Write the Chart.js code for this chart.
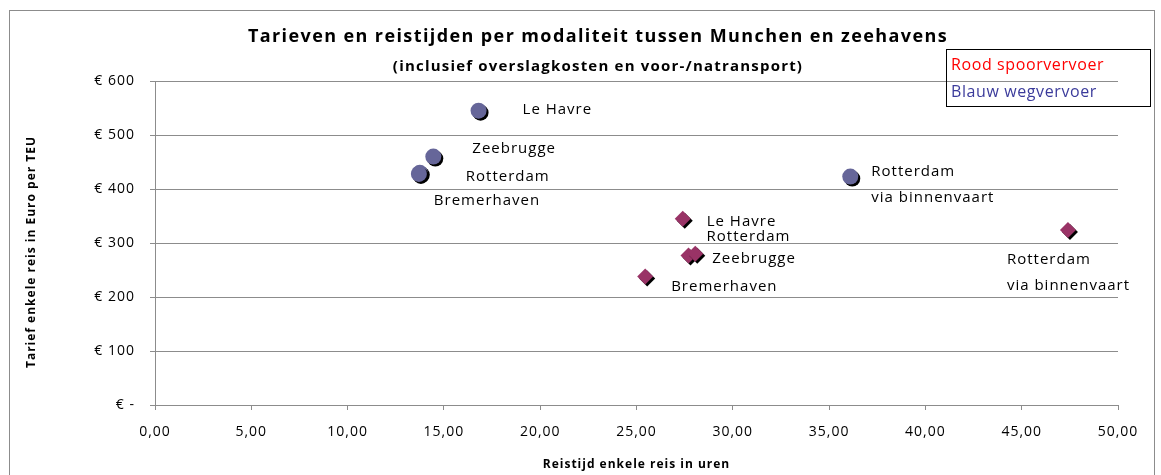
<!DOCTYPE html>
<html>
<head>
<meta charset="utf-8">
<script src="https://cdn.jsdelivr.net/npm/chart.js@4/dist/chart.umd.min.js"></script>
<style>
  body { margin: 0; background: #fff; }
  #wrap { width: 1161px; height: 475px; }
</style>
</head>
<body>
<div id="wrap"><canvas id="c" width="1161" height="475"></canvas></div>
<script>
// spoorvervoer (rood) - uren en euro per TEU
const railPorts = ['Le Havre', 'Rotterdam', 'Zeebrugge', 'Bremerhaven', ['Rotterdam', 'via binnenvaart']];
const railHours = [27.4, 27.7, 28.05, 25.45, 47.4];
const railTariff = [345, 277, 280, 238, 324];

// wegvervoer (blauw)
const roadPorts = ['Le Havre', 'Zeebrugge', 'Rotterdam', 'Bremerhaven', ['Rotterdam', 'via binnenvaart']];
const roadHours = [16.8, 14.45, 13.75, 13.7, 36.1];
const roadTariff = [545, 460, 430, 428, 423];

const xTicks = [0, 5, 10, 15, 20, 25, 30, 35, 40, 45, 50];
const yTicks = [0, 100, 200, 300, 400, 500, 600];

const FONT = '"Open Sans", "Noto Sans", sans-serif';

// label offsets from the marker (text left, text middle)
const railOffsets = [[24, 3], [18, -19], [17, 5], [26, 10], [-61, 30]];
const roadOffsets = [[44, -1], [39, -8], [46, 4], [15, 27], [21, -5]];

const toPts = (xs, ys) => xs.map((x, i) => ({ x: x, y: ys[i] }));

const decor = {
  id: 'decor',
  beforeDraw(chart) {
    const ctx = chart.ctx;
    ctx.save();
    ctx.fillStyle = '#fff';
    ctx.fillRect(0, 0, chart.width, chart.height);
    ctx.strokeStyle = '#8c8c8c';
    ctx.lineWidth = 1;
    ctx.strokeRect(9.5, 10.5, 1145, 470);
    ctx.restore();
    // the original text is spaced out a little
    ctx.letterSpacing = '1px';
  },
  beforeDatasetsDraw(chart) {
    const ctx = chart.ctx;
    ctx.save();
    ctx.shadowColor = '#000';
    ctx.shadowOffsetX = 2;
    ctx.shadowOffsetY = 2;
    ctx.shadowBlur = 0;
  },
  afterDatasetsDraw(chart) {
    const ctx = chart.ctx;
    ctx.restore();

    ctx.save();
    ctx.fillStyle = '#000';
    ctx.textAlign = 'center';
    ctx.textBaseline = 'middle';
    ctx.letterSpacing = '1.4px';
    ctx.font = 'bold 18px ' + FONT;
    ctx.fillText('Tarieven en reistijden per modaliteit tussen Munchen en zeehavens', 598, 37);
    ctx.letterSpacing = '1.2px';
    ctx.font = 'bold 15px ' + FONT;
    ctx.fillText('(inclusief overslagkosten en voor-/natransport)', 598, 67);

    // y axis title
    ctx.save();
    ctx.letterSpacing = '1px';
    ctx.font = 'bold 12px ' + FONT;
    ctx.translate(32, 252);
    ctx.rotate(-Math.PI / 2);
    ctx.fillText('Tarief enkele reis in Euro per TEU', 0, 0);
    ctx.restore();

    // point labels
    ctx.textAlign = 'left';
    ctx.letterSpacing = '1px';
    ctx.font = '15px ' + FONT;
    const sets = [[railPorts, railOffsets], [roadPorts, roadOffsets]];
    sets.forEach(([names, offs], di) => {
      const meta = chart.getDatasetMeta(di);
      meta.data.forEach((pt, i) => {
        const lines = [].concat(names[i]);
        lines.forEach((ln, k) => {
          ctx.fillText(ln, pt.x + offs[i][0], pt.y + offs[i][1] + k * 26);
        });
      });
    });

    // legend box
    ctx.strokeStyle = '#000';
    ctx.lineWidth = 1;
    ctx.strokeRect(946.5, 49.5, 204, 57);
    ctx.letterSpacing = '0.6px';
    ctx.font = '16px ' + FONT;
    ctx.fillStyle = '#ff0000';
    ctx.fillText('Rood spoorvervoer', 951, 65);
    ctx.fillStyle = '#3b3b9b';
    ctx.fillText('Blauw wegvervoer', 951, 92);
    ctx.restore();
  }
};

new Chart(document.getElementById('c'), {
  type: 'scatter',
  data: {
    datasets: [
      {
        label: 'Spoorvervoer',
        data: toPts(railHours, railTariff),
        pointStyle: 'rectRot',
        pointRadius: 8,
        pointHoverRadius: 8,
        backgroundColor: '#993366',
        borderWidth: 0
      },
      {
        label: 'Wegvervoer',
        data: toPts(roadHours, roadTariff),
        pointStyle: 'circle',
        pointRadius: 8,
        pointHoverRadius: 8,
        backgroundColor: '#666699',
        borderWidth: 0
      }
    ]
  },
  options: {
    responsive: false,
    animation: false,
    layout: { padding: { top: 81, right: 43, bottom: 0, left: 0 } },
    plugins: {
      legend: { display: false },
      tooltip: { enabled: false }
    },
    scales: {
      x: {
        type: 'linear',
        min: 0,
        max: 50,
        afterFit: s => { s.height = 70; },
        afterBuildTicks: s => { s.ticks = xTicks.map(v => ({ value: v })); },
        grid: { drawOnChartArea: false, tickLength: 5, color: '#8c8c8c' },
        border: { color: '#8c8c8c' },
        ticks: {
          color: '#000',
          padding: 14,
          maxRotation: 0,
          font: { family: FONT, size: 14 },
          callback: v => v.toFixed(2).replace('.', ',')
        },
        title: {
          display: true,
          text: 'Reistijd enkele reis in uren',
          color: '#000',
          font: { family: FONT, size: 12, weight: 'bold' },
          padding: { top: 0, bottom: 3 }
        }
      },
      y: {
        type: 'linear',
        min: 0,
        max: 600,
        afterFit: s => { s.width = 155; },
        afterBuildTicks: s => { s.ticks = yTicks.map(v => ({ value: v })); },
        grid: { tickLength: 5, color: '#8c8c8c' },
        border: { color: '#8c8c8c' },
        ticks: {
          color: '#000',
          padding: 15,
          font: { family: FONT, size: 14 },
          callback: v => v === 0 ? '€ -' : '€ ' + v
        }
      }
    }
  },
  plugins: [decor]
});
</script>
</body>
</html>
